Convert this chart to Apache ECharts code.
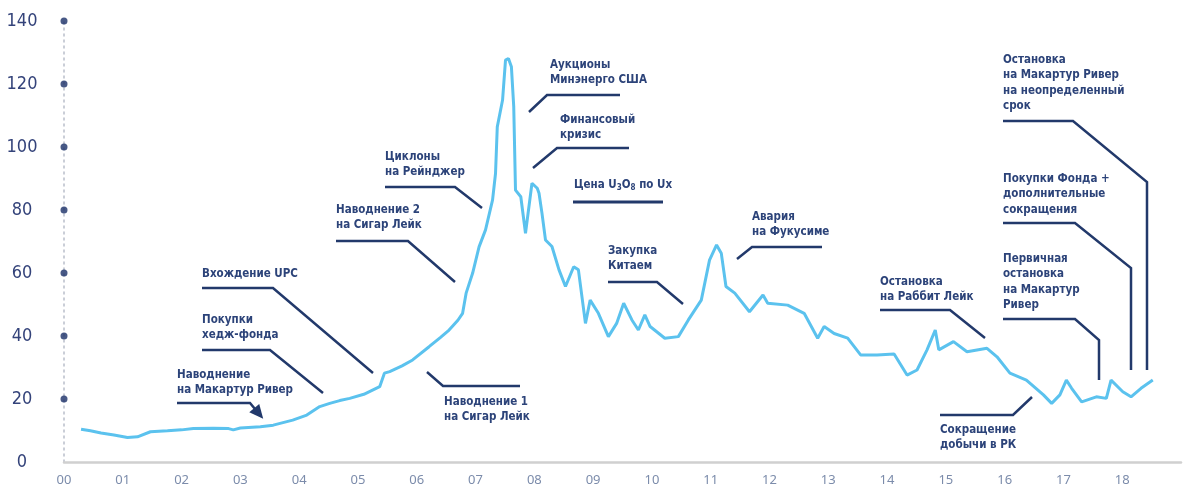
<!DOCTYPE html>
<html><head><meta charset="utf-8">
<script src="https://cdn.jsdelivr.net/npm/echarts@6/dist/echarts.min.js"></script>
<style>html,body{margin:0;padding:0;background:#fff}#c{width:1184px;height:488px}</style>
</head><body><div id="c"></div>
<script>
// ---- data ----
const yearLabels = ['00','01','02','03','04','05','06','07','08','09','10','11','12','13','14','15','16','17','18'];
const yTickValues = [0,20,40,60,80,100,120,140];
const seriesName = 'Цена U3O8 по Ux';
// time in years since 2000 (fractional)
const years = [
  0.29,0.45,0.63,0.85,1.08,1.25,1.47,1.76,2.00,2.20,2.54,2.80,2.88,3.00,3.34,3.56,3.89,4.13,4.35,4.52,4.69,4.86,5.10,5.37,5.45,5.54,5.75,5.93,6.21,6.40,6.55,6.70,6.78,6.84,6.95,7.06,7.17,7.29,7.34,7.37,7.46,7.51,7.56,7.61,7.65,7.68,7.77,7.85,7.96,8.05,8.08,8.13,8.19,8.30,8.42,8.53,8.67,8.75,8.87,8.95,9.09,9.26,9.40,9.52,9.66,9.77,9.88,9.97,10.22,10.45,10.62,10.84,10.98,11.10,11.18,11.26,11.41,11.66,11.89,11.97,12.31,12.59,12.82,12.93,13.10,13.33,13.55,13.83,14.12,14.34,14.51,14.68,14.82,14.88,15.13,15.36,15.70,15.87,16.09,16.37,16.66,16.80,16.94,17.05,17.14,17.31,17.56,17.73,17.81,18.01,18.15,18.32,18.52
];
const prices = [
  10.4,9.9,9.2,8.6,7.8,8.0,9.6,9.9,10.2,10.6,10.7,10.6,10.2,10.8,11.2,11.7,13.3,14.9,17.6,18.6,19.5,20.2,21.5,23.9,28.2,28.7,30.5,32.4,36.6,39.5,41.9,45.0,47.2,53.6,59.9,68.3,73.7,83.2,91.6,106.4,114.9,127.6,128.1,125.5,112.8,86.3,84.2,72.6,88.5,86.9,85.3,79.0,70.5,68.4,61.0,55.7,62.0,61.0,44.0,51.4,47.2,39.8,44.0,50.4,45.1,41.9,46.7,43.0,39.3,39.8,45.1,51.4,64.1,68.9,66.3,55.7,53.6,47.7,53.0,50.4,49.8,47.2,39.3,43.0,40.8,39.3,34.0,34.0,34.3,27.6,29.2,35.6,41.9,35.6,38.2,35.0,36.1,33.4,28.2,26.0,21.3,18.6,21.3,26.0,23.4,19.1,20.7,20.2,26.0,22.3,20.7,23.4,26.0
];
const annotationTexts = [
  'Наводнение\nна Макартур Ривер',
  'Покупки\nхедж-фонда',
  'Вхождение UPC',
  'Наводнение 2\nна Сигар Лейк',
  'Наводнение 1\nна Сигар Лейк',
  'Циклоны\nна Рейнджер',
  'Аукционы\nМинэнерго США',
  'Финансовый\nкризис',
  'Закупка\nКитаем',
  'Авария\nна Фукусиме',
  'Остановка\nна Раббит Лейк',
  'Сокращение\nдобычи в РК',
  'Первичная\nостановка\nна Макартур\nРивер',
  'Покупки Фонда +\nдополнительные\nсокращения',
  'Остановка\nна Макартур Ривер\nна неопределенный\nсрок'
];

// ---- layout (pixels) ----
const annotationLayout = [
  {x:177, y:367, line:[[177,403],[250,403],[260,415]], arrow:true},
  {x:202, y:312, line:[[202,350],[270,350],[323,393]]},
  {x:202, y:266, line:[[202,288],[273,288],[373,373]]},
  {x:336, y:202, line:[[336,241],[408,241],[455,282]]},
  {x:444, y:394, line:[[427,372],[443,386],[520,386]]},
  {x:385, y:149, line:[[385,187],[455,187],[482,208]]},
  {x:550, y:57,  line:[[529,112],[547,95],[620,95]]},
  {x:560, y:112, line:[[533,168],[557,148],[629,148]]},
  {x:608, y:243, line:[[608,282],[657,282],[683,304]]},
  {x:752, y:209, line:[[737,259],[752,247],[822,247]]},
  {x:880, y:274, line:[[880,310],[950,310],[985,338]]},
  {x:940, y:422, line:[[940,415],[1013,415],[1032,397]]},
  {x:1003, y:251, line:[[1003,319],[1075,319],[1099,340],[1099,380]]},
  {x:1003, y:171, line:[[1003,223],[1075,223],[1131,268],[1131,370]]},
  {x:1003, y:52,  line:[[1003,121],[1073,121],[1147,182],[1147,370]]}
];
const NAVY = '#22396b';
const TEXT_NAVY = '#2c4379';
const annFont = "'Liberation Sans Narrow','DejaVu Sans Condensed',sans-serif";
const annSize = 11.5;

const graphics = [];
annotationTexts.forEach((txt, i) => {
  const L = annotationLayout[i];
  graphics.push({
    type:'text', left:L.x, top:L.y, silent:true,
    style:{text:txt, fill:TEXT_NAVY, fontFamily:annFont, fontSize:annSize, fontWeight:'bold', lineHeight:15.5}
  });
  graphics.push({
    type:'polyline', silent:true,
    shape:{points:L.line},
    style:{stroke:NAVY, lineWidth:2.5, fill:null}
  });
  if (L.arrow) {
    const p = L.line[L.line.length-1], q = L.line[L.line.length-2];
    const dx = p[0]-q[0], dy = p[1]-q[1], len = Math.hypot(dx,dy);
    const ux = dx/len, uy = dy/len;
    const tip = [p[0]+ux*5, p[1]+uy*5];
    const back = [tip[0]-ux*14, tip[1]-uy*14];
    graphics.push({
      type:'polygon', silent:true,
      shape:{points:[tip,[back[0]+uy*6.5, back[1]-ux*6.5],[back[0]-uy*6.5, back[1]+ux*6.5]]},
      style:{fill:NAVY}
    });
  }
});
// legend
graphics.push({
  type:'text', left:574, top:179, silent:true,
  style:{text:'Цена U{s|3}O{s|8} по Ux', fill:TEXT_NAVY, fontFamily:annFont, fontSize:annSize, fontWeight:'bold',
    rich:{s:{fontSize:8, fontFamily:annFont, fontWeight:'bold', fill:TEXT_NAVY, verticalAlign:'bottom', padding:[6,0,0,0]}}}
});
graphics.push({
  type:'line', silent:true, shape:{x1:573,y1:202,x2:663,y2:202},
  style:{stroke:NAVY, lineWidth:3}
});

const chart = echarts.init(document.getElementById('c'), null, {renderer:'canvas'});
chart.setOption({
  animation:false,
  backgroundColor:'#ffffff',
  grid:{left:64, right:0, top:21, bottom:26, containLabel:false},
  xAxis:{
    type:'value', min:0, max:19, interval:1,
    axisLine:{show:true, lineStyle:{color:'#d0d0d0', width:2.5}},
    axisTick:{show:false}, splitLine:{show:false},
    axisLabel:{margin:12, color:'#7c8cab', fontSize:13, fontFamily:"'Noto Sans',sans-serif",
      formatter:v => (v>=0 && v<yearLabels.length) ? yearLabels[v] : ''}
  },
  yAxis:{
    type:'value', min:0, max:140, interval:20,
    axisLine:{show:true, lineStyle:{color:'#b9bfca', width:1.5, type:[2,4]}},
    axisTick:{show:false}, splitLine:{show:false},
    axisLabel:{margin:42, align:'center', color:'#34437a', fontSize:18,
      fontFamily:"'Liberation Sans Narrow','DejaVu Sans Condensed',sans-serif",
      formatter:v => yTickValues.includes(v) ? String(v) : ''}
  },
  series:[
    {
      name:seriesName, type:'line', showSymbol:false, symbol:'none', smooth:false,
      data: years.map((t,i)=>[t, prices[i]]),
      lineStyle:{color:'#5bc2ee', width:3}, z:3
    },
    {
      type:'scatter', symbol:'circle', symbolSize:7, clip:false, silent:true,
      data: yTickValues.filter(v=>v>0).map(v=>[0,v]),
      itemStyle:{color:'#1a3068'}, z:4
    }
  ],
  graphic:graphics
});
</script>
</body></html>
